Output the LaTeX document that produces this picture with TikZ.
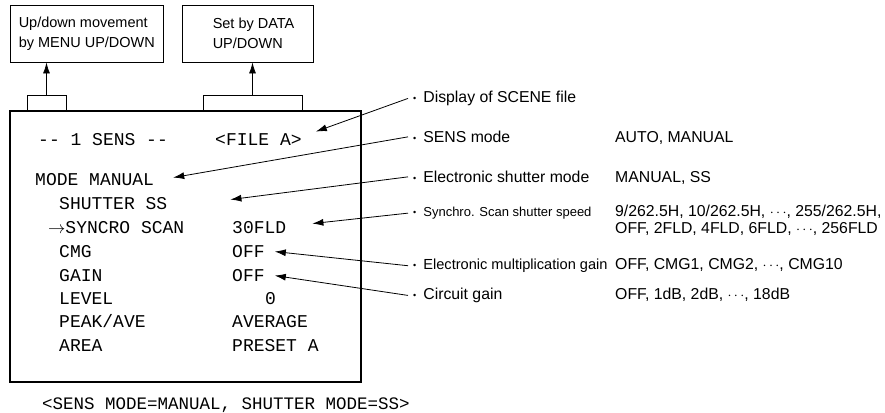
\documentclass[tikz,border=0pt]{standalone}
\usepackage{fontspec}
\setmainfont{Liberation Sans}
\setmonofont{Liberation Mono}
\usetikzlibrary{arrows.meta}

\begin{document}
\begin{tikzpicture}[x=1pt, y=-1pt,
            pointer/.style={-{Latex[length=11pt,width=7pt]}, line width=0.8pt},
            keybox/.style={draw, line width=0.9pt, minimum height=57pt, inner sep=0pt},
            tab/.style={draw, line width=0.9pt, minimum height=16pt, inner sep=0pt},
            keytext/.style={anchor=west, align=left, inner sep=0pt, font=\fontsize{14.5}{20}\selectfont},
            lcd/.style={anchor=base west, inner sep=0pt, font=\fontsize{18}{22}\ttfamily},
            note/.style={anchor=base west, inner xsep=5pt, inner ysep=0pt, font=\fontsize{15.8}{19}\selectfont},
            setting/.style={anchor=base west, inner sep=0pt, align=left, font=\fontsize{15.8}{17}\selectfont}]
            \useasboundingbox (0,0) rectangle (885,412);
            \node[keybox, minimum width=153pt] (menuBox) at (86.5,33.5) {};
            \node[keybox, minimum width=131pt] (dataBox) at (247.5,33.5) {};
            \node[keytext] (menuText) at ([xshift=9pt]menuBox.west) {Up/down movement\\by MENU UP/DOWN};
            \node[keytext] (dataText) at ([xshift=31pt]dataBox.west) {Set by DATA\\UP/DOWN};
            \node[draw, line width=2pt, minimum width=351pt, minimum height=271pt, inner sep=0pt] (screen) at (185.5,246.5) {};
            \node[tab, minimum width=39pt] (menuTab) at (46.5,103) {};
            \node[tab, minimum width=99pt] (dataTab) at (252.5,103) {};
            \draw[pointer] (menuTab.north) -- (menuTab.north |- menuBox.south);
            \draw[pointer] (dataTab.north) -- (dataTab.north |- dataBox.south);
            \node[lcd] (title) at (38,145.5) {-{}- 1 SENS -{}-};
            \node[lcd] (fileA) at (215,145.5) {<FILE A>};
            \node[lcd] (mode) at (35,185.5) {MODE MANUAL};
            \node[lcd] (shutter) at (59,209.5) {SHUTTER SS};
            \node[lcd] (syncro) at (48,233.5) {$\rightarrow$SYNCRO SCAN};
            \node[lcd] (syncroVal) at (232,233.5) {30FLD};
            \node[lcd] (cmg) at (59,257.5) {CMG};
            \node[lcd] (cmgVal) at (232,257.5) {OFF};
            \node[lcd] (gain) at (59,281.5) {GAIN};
            \node[lcd] (gainVal) at (232,281.5) {OFF};
            \node[lcd] (level) at (59,304.5) {LEVEL};
            \node[lcd] (levelVal) at (265,304.5) {0};
            \node[lcd] (peak) at (59,327.5) {PEAK/AVE};
            \node[lcd] (peakVal) at (232,327.5) {AVERAGE};
            \node[lcd] (area) at (59,351.5) {AREA};
            \node[lcd] (areaVal) at (232,351.5) {PRESET A};
            \node[lcd, font=\fontsize{17.5}{20}\ttfamily] (caption) at (42,409) {<SENS MODE=MANUAL, SHUTTER MODE=SS>};
            \node[note] (lblFile) at (408,102.5) {\raisebox{1.5pt}{\fontsize{9}{9}\selectfont •}\hspace{7pt}Display of SCENE file};
            \node[note] (lblSens) at (408,142.5) {\raisebox{1.5pt}{\fontsize{9}{9}\selectfont •}\hspace{7pt}SENS mode};
            \node[note] (lblShutter) at (408,182.5) {\raisebox{1.5pt}{\fontsize{9}{9}\selectfont •}\hspace{7pt}Electronic shutter mode};
            \node[note, font=\fontsize{13}{15}\selectfont] (lblSpeed) at (408,216.5) {\raisebox{1.5pt}{\fontsize{9}{9}\selectfont •}\hspace{7pt}Synchro. Scan shutter speed};
            \node[note, font=\fontsize{14.6}{17}\selectfont] (lblGain) at (408,269.5) {\raisebox{1.5pt}{\fontsize{9}{9}\selectfont •}\hspace{7pt}Electronic multiplication gain};
            \node[note] (lblCircuit) at (408,299.5) {\raisebox{1.5pt}{\fontsize{9}{9}\selectfont •}\hspace{7pt}Circuit gain};
            \node[setting] (valSens) at (615,142.5) {AUTO, MANUAL};
            \node[setting] (valShutter) at (615,182.5) {MANUAL, SS};
            \node[setting] (valSpeed) at (615,233.5) {9/262.5H, 10/262.5H, $\cdots$, 255/262.5H,\\OFF, 2FLD, 4FLD, 6FLD, $\cdots$, 256FLD};
            \node[setting] (valGain) at (615,269.5) {OFF, CMG1, CMG2, $\cdots$, CMG10};
            \node[setting] (valCircuit) at (615,299.5) {OFF, 1dB, 2dB, $\cdots$, 18dB};
            \draw[pointer] (lblFile.west) -- ([xshift=14pt,yshift=8pt]fileA.east);
            \draw[pointer] (lblSens.west) -- ([xshift=19pt,yshift=2pt]mode.east);
            \draw[pointer] (lblShutter.west) -- ([xshift=63pt,yshift=4pt]shutter.east);
            \draw[pointer] (lblSpeed.west) -- ([xshift=26pt,yshift=4pt]syncroVal.east);
            \draw[pointer] (lblGain.west) -- ([xshift=10pt]cmgVal.east);
            \draw[pointer] (lblCircuit.west) -- ([xshift=10pt]gainVal.east);
        \end{tikzpicture}
\end{document}
